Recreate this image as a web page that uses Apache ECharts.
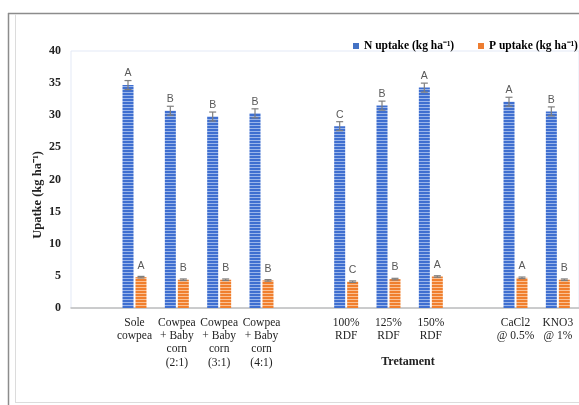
<!DOCTYPE html>
<html>
<head>
<meta charset="utf-8">
<script src="https://cdn.jsdelivr.net/npm/echarts@6/dist/echarts.min.js"></script>
<style>
  html, body { margin: 0; padding: 0; background: #fff; }
  #chart { width: 579px; height: 405px; }
</style>
</head>
<body>
<div id="chart"></div>
<script>
// Treatments (blank slots separate the treatment groups)
const categories = ['', 'Sole\ncowpea', 'Cowpea\n+ Baby\ncorn\n(2:1)', 'Cowpea\n+ Baby\ncorn\n(3:1)', 'Cowpea\n+ Baby\ncorn\n(4:1)', '',
  '100%\nRDF', '125%\nRDF', '150%\nRDF', '', 'CaCl2\n@ 0.5%', 'KNO3\n@ 1%'];
const nUptake = [null, 34.7, 30.7, 29.8, 30.3, null, 28.3, 31.5, 34.3, null, 32.1, 30.6];
const pUptake = [null, 4.8, 4.4, 4.4, 4.3, null, 4.1, 4.5, 4.9, null, 4.7, 4.4];
const nError = [null, 0.7, 0.7, 0.7, 0.7, null, 0.7, 0.7, 0.7, null, 0.7, 0.7];
const pError = [null, 0.12, 0.12, 0.12, 0.12, null, 0.12, 0.12, 0.12, null, 0.12, 0.12];
const nLetters = ['', 'A', 'B', 'B', 'B', '', 'C', 'B', 'A', '', 'A', 'B'];
const pLetters = ['', 'A', 'B', 'B', 'B', '', 'C', 'B', 'A', '', 'A', 'B'];
const yTicks = [0, 5, 10, 15, 20, 25, 30, 35, 40];
const seriesNames = ['N uptake (kg ha⁻¹)', 'P uptake (kg ha⁻¹)'];

const serif = "'Liberation Serif', 'Times New Roman', serif";
const sans = "'Liberation Sans', Arial, sans-serif";

// Narrow horizontal stripe fill
function stripe(base, light) {
  const c = document.createElement('canvas');
  c.width = 4; c.height = 3;
  const ctx = c.getContext('2d');
  ctx.fillStyle = base; ctx.fillRect(0, 0, 4, 3);
  ctx.fillStyle = light; ctx.fillRect(0, 2, 4, 1);
  return { image: c, repeat: 'repeat' };
}

const BAR_W = 11, HALF_OFF = 6.5;

function errorSeries(values, errors, dx) {
  return {
    type: 'custom',
    silent: true,
    z: 5,
    data: values.map((v, i) => [i, v, errors[i]]),
    renderItem: function (params, api) {
      const v = api.value(1);
      if (v == null || isNaN(v)) return;
      const e = api.value(2);
      const hi = api.coord([api.value(0), v + e]);
      const lo = api.coord([api.value(0), v - e]);
      const x = hi[0] + dx;
      const cap = 3.5;
      const style = { stroke: '#7f7f7f', lineWidth: 1.2 };
      return {
        type: 'group',
        children: [
          { type: 'line', shape: { x1: x, y1: hi[1], x2: x, y2: lo[1] }, style },
          { type: 'line', shape: { x1: x - cap, y1: hi[1], x2: x + cap, y2: hi[1] }, style },
          { type: 'line', shape: { x1: x - cap, y1: lo[1], x2: x + cap, y2: lo[1] }, style }
        ]
      };
    }
  };
}

function legendItem(name, color, left) {
  return {
    top: 35, left: left,
    itemWidth: 6, itemHeight: 6,
    textStyle: { fontFamily: serif, fontWeight: 'bold', fontSize: 11.5, color: '#000' },
    data: [{ name: name, icon: 'rect', itemStyle: { color: color } }]
  };
}

const chart = echarts.init(document.getElementById('chart'));
chart.setOption({
  animation: false,
  grid: { left: 71, top: 51, width: 513, height: 257, show: true, borderColor: '#e3e9f6', borderWidth: 1 },
  legend: [
    legendItem(seriesNames[0], '#4472c4', 348),
    legendItem(seriesNames[1], '#ed7d31', 473)
  ],
  xAxis: {
    type: 'category',
    data: categories,
    axisLine: { lineStyle: { color: '#bfbfbf', width: 1.5 } },
    axisTick: { show: false },
    axisLabel: { interval: 0, margin: 8, fontFamily: serif, fontSize: 11.5, lineHeight: 13.3, color: '#222' }
  },
  yAxis: {
    type: 'value',
    min: yTicks[0], max: yTicks[yTicks.length - 1], interval: 5,
    splitLine: { show: false },
    axisLine: { show: false },
    axisTick: { show: false },
    axisLabel: { margin: 10, fontFamily: serif, fontWeight: 'bold', fontSize: 12, color: '#222' }
  },
  series: [
    {
      name: seriesNames[0], type: 'bar', data: nUptake,
      barWidth: BAR_W, barGap: '18%',
      itemStyle: { color: stripe('#3f6fd0', '#9ab5ea') },
      label: {
        show: true, position: 'top', distance: 6,
        fontFamily: sans, fontSize: 10.5, color: '#595959',
        formatter: p => nLetters[p.dataIndex]
      }
    },
    {
      name: seriesNames[1], type: 'bar', data: pUptake,
      barWidth: BAR_W,
      itemStyle: { color: stripe('#f07f2e', '#fbc194') },
      label: {
        show: true, position: 'top', distance: 6,
        fontFamily: sans, fontSize: 10.5, color: '#595959',
        formatter: p => pLetters[p.dataIndex]
      }
    },
    errorSeries(nUptake, nError, -HALF_OFF),
    errorSeries(pUptake, pError, HALF_OFF)
  ],
  graphic: [
    // outer frame
    { type: 'line', shape: { x1: 8, y1: 13.5, x2: 579, y2: 13.5 }, style: { stroke: '#8c8c8c', lineWidth: 1.5 } },
    { type: 'line', shape: { x1: 8.5, y1: 13, x2: 8.5, y2: 405 }, style: { stroke: '#8c8c8c', lineWidth: 1.5 } },
    { type: 'line', shape: { x1: 15.5, y1: 14, x2: 15.5, y2: 402 }, style: { stroke: '#dcdcdc', lineWidth: 1 } },
    { type: 'line', shape: { x1: 15, y1: 402.5, x2: 579, y2: 402.5 }, style: { stroke: '#dcdcdc', lineWidth: 1 } },
    // axis titles
    {
      type: 'text', x: 38, y: 195, rotation: Math.PI / 2,
      style: { text: 'Upatke (kg ha⁻¹)', fontFamily: serif, fontWeight: 'bold', fontSize: 12.5, fill: '#222', align: 'center', verticalAlign: 'middle' }
    },
    {
      type: 'text', x: 408, y: 362,
      style: { text: 'Tretament', fontFamily: serif, fontWeight: 'bold', fontSize: 12, fill: '#222', align: 'center', verticalAlign: 'middle' }
    }
  ]
});
</script>
</body>
</html>
